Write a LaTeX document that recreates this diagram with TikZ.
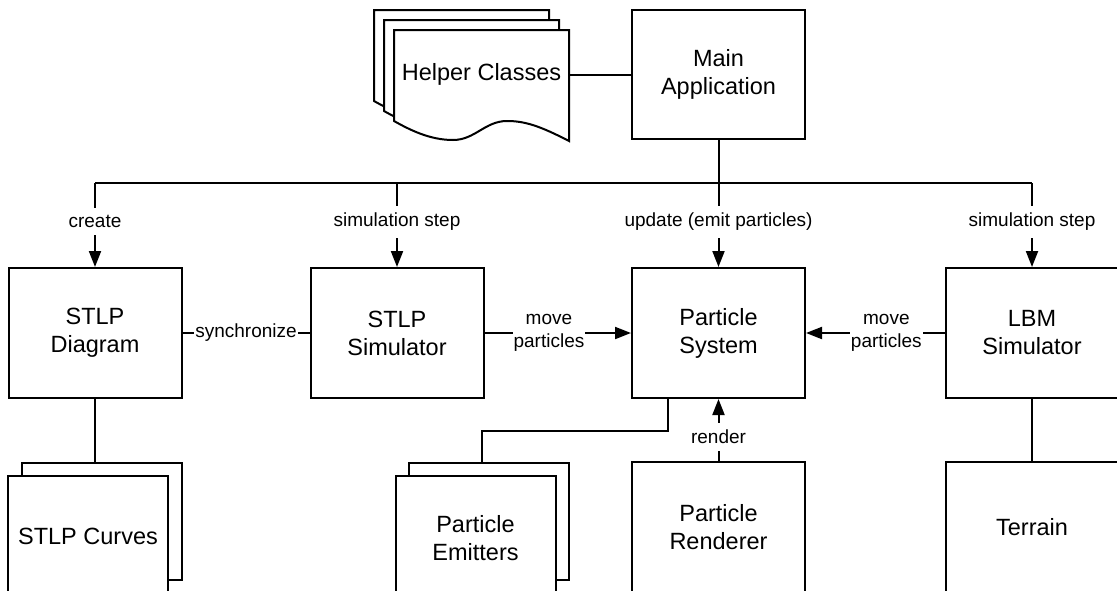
\documentclass[tikz,border=0pt]{standalone}
\usepackage{fontspec}
\setmainfont{Liberation Sans}
\usepackage{tikz}
\usetikzlibrary{arrows.meta,positioning}

\begin{document}
\begin{tikzpicture}[
  x=1pt, y=-1pt,
  line width=2pt,
  box/.style={draw, fill=white, minimum width=173pt, minimum height=130pt, align=center, inner sep=0pt, font=\fontsize{23.5}{28}\selectfont},
  page/.style={box, minimum width=160pt, minimum height=117pt},
  link/.style={-{Triangle[length=16pt, width=12pt]}},
  edgelabel/.style={fill=white, inner xsep=1pt, inner ysep=7pt, align=center, font=\fontsize{19}{23}\selectfont}
]
\useasboundingbox (0,0) rectangle (1117,590);

% Helper classes (stack of documents)
\foreach \d in {20,10,0}
  \draw[fill=white, shift={(-\d,-\d)}] (394,30) -- (569,30) -- (569,141)
    .. controls (540,126) and (525,121) .. (507,121)
    .. controls (485,121) and (475,140) .. (453,140)
    .. controls (430,140) and (410,130) .. (394,121) -- cycle;
\node[minimum width=175pt, inner sep=0pt, outer sep=0pt, font=\fontsize{23.5}{28}\selectfont] (helper) at (481.5,74.5) {Helper Classes};

% Main application
\node[box, minimum height=129pt] (main) at (718.5,74.5) {Main\\Application};

% Second row
\node[box] (diagram) at (95,333) {STLP\\Diagram};
\node[box] (stlpsim) at (397,333) {STLP\\Simulator};
\node[box] (psys) at (718.5,333) {Particle\\System};
\node[box] (lbm) at (1032,333) {LBM\\Simulator};

% Third row
\node[page] (curvesback) at (101.5,521.5) {};
\node[page, minimum height=120pt] (curves) at (88,536) {STLP Curves};
\node[page] (emittersback) at (489,521.5) {};
\node[page, minimum height=124pt] (emitters) at (475.5,538) {Particle\\Emitters};
\node[box] (renderer) at (718.5,527) {Particle\\Renderer};
\node[box] (terrain) at (1032,527) {Terrain};

% Main application to helpers and bus
\draw (helper.east) -- (main.west);
\coordinate (bus) at (718.5,183);
\draw (main.south) -- (bus);
\draw (diagram.north |- bus) -- (lbm.north |- bus);

% Calls from the bus
\draw[link] (diagram.north |- bus) -- node[edgelabel, pos=0.46] (lcreate) {create} (diagram.north);
\draw[link] (stlpsim.north |- bus) -- node[edgelabel, pos=0.46] (lstep1) {simulation step} (stlpsim.north);
\draw[link] (bus) -- node[edgelabel, pos=0.46] (lupdate) {update (emit particles)} (psys.north);
\draw[link] (lbm.north |- bus) -- node[edgelabel, pos=0.46] (lstep2) {simulation step} (lbm.north);

% Second row links
\draw (diagram.east) -- node[edgelabel] (lsync) {synchronize} (stlpsim.west);
\draw[link] (stlpsim.east) -- node[edgelabel, pos=0.44] (lmove1) {move\\particles} (psys.west);
\draw[link] (lbm.west) -- node[edgelabel, pos=0.42] (lmove2) {move\\particles} (psys.east);

% Links to the third row
\draw (diagram.south) -- (diagram.south |- curvesback.north);
\coordinate (emitfork) at (668,431);
\coordinate (emitdrop) at (482,431);
\draw (psys.south -| emitfork) -- (emitfork) -- (emitdrop) -- (emitdrop |- emittersback.north);
\draw[link] (renderer.north) -- node[edgelabel, pos=0.39] (lrender) {render} (psys.south);
\draw (lbm.south) -- (terrain.north);

\end{tikzpicture}
\end{document}
